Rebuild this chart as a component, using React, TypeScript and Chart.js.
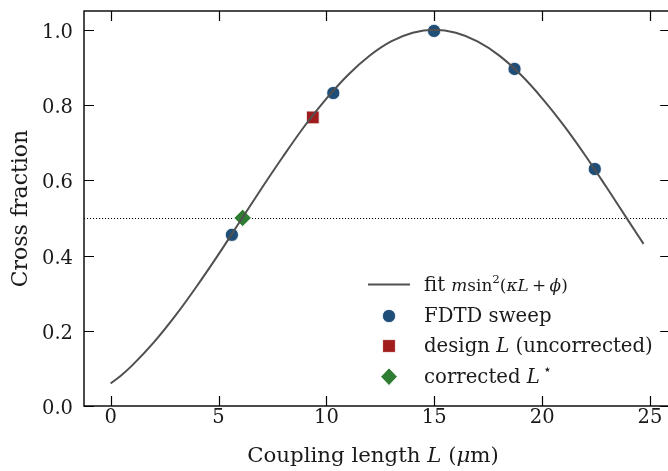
import React, { useEffect, useRef } from "react";
import { Chart, registerables } from "chart.js";

Chart.register(...registerables);

// ---- data ----
const fitL = [0, 0.5, 1, 2, 3, 4, 5, 6, 7, 8, 9, 10, 11, 12, 13, 14, 15, 16, 17, 18, 19, 20, 21, 22, 23, 24, 24.7];
const fitY = [0.060, 0.082, 0.108, 0.169, 0.240, 0.319, 0.403, 0.491, 0.579, 0.664, 0.745, 0.817, 0.880, 0.931, 0.969, 0.992, 1.0, 0.992, 0.969, 0.932, 0.881, 0.818, 0.746, 0.666, 0.580, 0.492, 0.431];
const sweepL = [5.62, 10.32, 14.99, 18.72, 22.44];
const sweepY = [0.455, 0.832, 0.997, 0.896, 0.630];
const designL = [9.37];
const designY = [0.767];
const correctedL = [6.12];
const correctedY = [0.5];
const targetLevel = 0.5;
const xTicks = [0, 5, 10, 15, 20, 25];
const yTicks = [0, 0.2, 0.4, 0.6, 0.8, 1.0];
const X_MIN = -1.235;
const X_MAX = 25.935;
const Y_MIN = 0;
const Y_MAX = 1.05;

const SERIF = "'DejaVu Serif', serif";
const C_FIT = "#505050";
const C_SWEEP = "#1f4e79";
const C_DESIGN = "#a11d1d";
const C_CORR = "#2e7d32";

type Run = { t: string; it?: boolean; sup?: boolean; sc?: number };

function drawRuns(ctx: CanvasRenderingContext2D, x: number, y: number, runs: Run[], size: number, align: "left" | "center" = "left") {
  const fontFor = (r: Run) => {
    const s = size * (r.sc ?? 1) * (r.sup ? 0.7 : 1);
    return `${r.it ? "italic " : ""}${s.toFixed(1)}px ${SERIF}`;
  };
  let total = 0;
  for (const r of runs) {
    ctx.font = fontFor(r);
    total += ctx.measureText(r.t).width;
  }
  let cx = align === "center" ? x - total / 2 : x;
  ctx.textAlign = "left";
  ctx.textBaseline = "alphabetic";
  for (const r of runs) {
    ctx.font = fontFor(r);
    ctx.fillText(r.t, cx, r.sup ? y - size * 0.42 : y);
    cx += ctx.measureText(r.t).width;
  }
}

const framePlugin = {
  id: "frame",
  beforeDatasetsDraw(chart: any) {
    const { ctx, chartArea: a, scales } = chart;
    const yp = Math.round(scales.y.getPixelForValue(targetLevel)) + 0.5;
    ctx.save();
    ctx.strokeStyle = "#000";
    ctx.lineWidth = 1.1;
    ctx.setLineDash([1.1, 1.9]);
    ctx.beginPath();
    ctx.moveTo(a.left, yp);
    ctx.lineTo(a.right, yp);
    ctx.stroke();
    ctx.restore();
  },
  afterDraw(chart: any) {
    const { ctx, chartArea: a, scales } = chart;
    const xs = scales.x;
    const ys = scales.y;
    ctx.save();
    ctx.strokeStyle = "#000";
    ctx.lineWidth = 1.4;
    ctx.strokeRect(a.left, a.top, a.right - a.left, a.bottom - a.top);
    const tl = 10;
    ctx.lineWidth = 1.2;
    ctx.beginPath();
    for (const v of xTicks) {
      const px = Math.round(xs.getPixelForValue(v)) + 0.5;
      ctx.moveTo(px, a.bottom);
      ctx.lineTo(px, a.bottom - tl);
      ctx.moveTo(px, a.top);
      ctx.lineTo(px, a.top + tl);
    }
    for (const v of yTicks) {
      const py = Math.round(ys.getPixelForValue(v)) + 0.5;
      ctx.moveTo(a.left, py);
      ctx.lineTo(a.left + tl, py);
      ctx.moveTo(a.right, py);
      ctx.lineTo(a.right - tl, py);
    }
    ctx.stroke();

    // tick labels
    ctx.fillStyle = "#1a1a1a";
    ctx.font = `19.5px ${SERIF}`;
    ctx.textBaseline = "alphabetic";
    ctx.textAlign = "center";
    for (const v of xTicks) {
      ctx.fillText(String(v), xs.getPixelForValue(v), 423);
    }
    ctx.textAlign = "right";
    for (const v of yTicks) {
      ctx.fillText(v.toFixed(1), 73, ys.getPixelForValue(v) + 8);
    }

    // axis titles
    drawRuns(ctx, 373, 462, [
      { t: "Coupling length " },
      { t: "L", it: true },
      { t: " (" },
      { t: "μ", it: true },
      { t: "m)" },
    ], 21.3, "center");
    ctx.save();
    ctx.translate(26.5, (a.top + a.bottom) / 2);
    ctx.rotate(-Math.PI / 2);
    ctx.font = `22px ${SERIF}`;
    ctx.textAlign = "center";
    ctx.textBaseline = "alphabetic";
    ctx.fillText("Cross fraction", 0, 0);
    ctx.restore();

    // legend
    const mx = 389;
    const tx = 424;
    const fs = 19.7;
    ctx.strokeStyle = C_FIT;
    ctx.lineWidth = 2;
    ctx.beginPath();
    ctx.moveTo(368, 284.5);
    ctx.lineTo(410, 284.5);
    ctx.stroke();

    ctx.strokeStyle = "#fff";
    ctx.lineWidth = 0.8;
    ctx.fillStyle = C_SWEEP;
    ctx.beginPath();
    ctx.arc(mx, 316, 6.6, 0, Math.PI * 2);
    ctx.fill();
    ctx.stroke();

    ctx.fillStyle = C_DESIGN;
    ctx.beginPath();
    ctx.rect(mx - 6.4, 346 - 6.4, 12.8, 12.8);
    ctx.fill();
    ctx.stroke();

    ctx.fillStyle = C_CORR;
    ctx.beginPath();
    ctx.moveTo(mx - 8.3, 376.7);
    ctx.lineTo(mx, 376.7 - 8.8);
    ctx.lineTo(mx + 8.3, 376.7);
    ctx.lineTo(mx, 376.7 + 8.8);
    ctx.closePath();
    ctx.fill();
    ctx.stroke();

    ctx.fillStyle = "#1a1a1a";
    const m = 0.86;
    drawRuns(ctx, tx, 291, [
      { t: "fit " },
      { t: "m", it: true, sc: m },
      { t: "sin", sc: m },
      { t: "2", sup: true, sc: m },
      { t: "(", sc: m },
      { t: "κL", it: true, sc: m },
      { t: "\u2009+\u2009", sc: m },
      { t: "ϕ", it: true, sc: m },
      { t: ")", sc: m },
    ], fs);
    drawRuns(ctx, tx, 321.5, [{ t: "FDTD sweep" }], fs);
    drawRuns(ctx, tx, 352, [{ t: "design " }, { t: "L", it: true }, { t: " (uncorrected)" }], fs);
    drawRuns(ctx, tx, 382.5, [{ t: "corrected " }, { t: "L", it: true }, { t: "\u2009⋆", sup: true }], fs);
    ctx.restore();
  },
};

export default function App() {
  const ref = useRef<HTMLCanvasElement>(null);
  useEffect(() => {
    if (!ref.current) return;
    const pts = (xs: number[], ys: number[]) => xs.map((x, i) => ({ x, y: ys[i] }));
    const chart = new Chart(ref.current, {
      type: "scatter",
      data: {
        datasets: [
          {
            label: "fit",
            data: pts(fitL, fitY),
            showLine: true,
            borderColor: C_FIT,
            borderWidth: 2,
            pointRadius: 0,
            cubicInterpolationMode: "monotone",
          } as any,
          {
            label: "FDTD sweep",
            data: pts(sweepL, sweepY),
            pointStyle: "circle",
            pointRadius: 6.6,
            backgroundColor: C_SWEEP,
            borderColor: "#fff",
            borderWidth: 0.8,
          },
          {
            label: "design L",
            data: pts(designL, designY),
            pointStyle: "rect",
            pointRadius: 9,
            backgroundColor: C_DESIGN,
            borderColor: "#fff",
            borderWidth: 0.8,
          },
          {
            label: "corrected L*",
            data: pts(correctedL, correctedY),
            pointStyle: "rectRot",
            pointRadius: 8.7,
            backgroundColor: C_CORR,
            borderColor: "#fff",
            borderWidth: 0.8,
          },
        ],
      },
      options: {
        responsive: false,
        animation: false,
        devicePixelRatio: 1,
        layout: { padding: { top: 11, right: 9, left: 0, bottom: 0 } },
        plugins: { legend: { display: false }, tooltip: { enabled: false } },
        scales: {
          x: {
            type: "linear",
            min: X_MIN,
            max: X_MAX,
            grid: { display: false, drawTicks: false },
            border: { display: false },
            ticks: { display: false },
            afterFit: (s: any) => { s.height = 65; },
          },
          y: {
            type: "linear",
            min: Y_MIN,
            max: Y_MAX,
            grid: { display: false, drawTicks: false },
            border: { display: false },
            ticks: { display: false },
            afterFit: (s: any) => { s.width = 84; },
          },
        },
      },
      plugins: [framePlugin],
    });
    return () => chart.destroy();
  }, []);
  return (
    <div style={{ position: "fixed", left: 0, top: 0, width: 668, height: 471, overflow: "hidden", background: "#fff" }}>
      <canvas ref={ref} width={680} height={471} style={{ display: "block" }} />
    </div>
  );
}
